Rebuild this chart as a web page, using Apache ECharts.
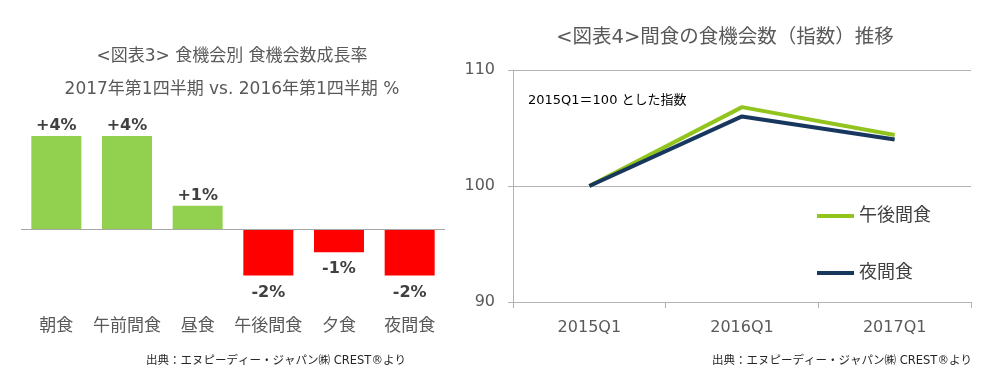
<!DOCTYPE html>
<html>
<head>
<meta charset="utf-8">
<script src="https://cdn.jsdelivr.net/npm/echarts@6/dist/echarts.min.js"></script>
<style>
html,body{margin:0;padding:0;background:#fff;}
#main{width:992px;height:377px;}
</style>
</head>
<body>
<div id="main"></div>
<script>
// ---- Data ----
const barCategories = ['朝食', '午前間食', '昼食', '午後間食', '夕食', '夜間食'];
const growthRates = [4, 4, 1, -2, -1, -2];
const quarters = ['2015Q1', '2016Q1', '2017Q1'];
const afternoonSnack = [100, 106.8, 104.4];
const nightSnack = [100, 106.0, 104.0];
const lineNames = ['午後間食', '夜間食'];
const indexAxis = { min: 90, max: 110, interval: 10 };
const rateAxis = { min: -3, max: 5 };

const FONT = "'DejaVu Sans', 'Noto Sans CJK JP', sans-serif";
const GREEN_BAR = '#92D050';
const RED_BAR = '#FF0000';
const GREEN_LINE = '#92C41E';
const NAVY_LINE = '#17375E';
const GRAY_TXT = '#595959';
const AXIS_GRAY = '#B3B3B3';

const chart = echarts.init(document.getElementById('main'), null, { renderer: 'canvas' });

const barData = growthRates.map(v => ({
  value: v,
  itemStyle: { color: v > 0 ? GREEN_BAR : RED_BAR },
  label: { position: v > 0 ? 'top' : 'bottom', distance: v > 0 ? 2 : 9 }
}));

const option = {
  backgroundColor: '#fff',
  animation: false,
  textStyle: { fontFamily: FONT },
  graphic: [
    { type: 'text', x: 232, y: 57, style: { text: '<図表3> 食機会別 食機会数成長率', font: "17px " + FONT, fill: GRAY_TXT, textAlign: 'center', textVerticalAlign: 'middle' } },
    { type: 'text', x: 232, y: 90, style: { text: '2017年第1四半期 vs. 2016年第1四半期 %', font: "17px " + FONT, fill: GRAY_TXT, textAlign: 'center', textVerticalAlign: 'middle' } },
    { type: 'text', x: 725, y: 38, style: { text: '<図表4>間食の食機会数（指数）推移', font: "19.5px " + FONT, fill: GRAY_TXT, textAlign: 'center', textVerticalAlign: 'middle' } },
    { type: 'text', x: 528, y: 101, style: { text: '2015Q1＝100 とした指数', font: "13px " + FONT, fill: '#000', textAlign: 'left', textVerticalAlign: 'middle' } },
    { type: 'text', x: 276, y: 361, style: { text: '出典：エヌピーディー・ジャパン㈱ CREST®より', font: "11.5px " + FONT, fill: '#262626', textAlign: 'center', textVerticalAlign: 'middle' } },
    { type: 'text', x: 842, y: 361, style: { text: '出典：エヌピーディー・ジャパン㈱ CREST®より', font: "11.5px " + FONT, fill: '#262626', textAlign: 'center', textVerticalAlign: 'middle' } }
  ],
  legend: {
    data: lineNames,
    orient: 'vertical',
    left: 812,
    top: 201,
    itemWidth: 37,
    itemHeight: 4,
    itemGap: 37,
    icon: 'rect',
    textStyle: { fontSize: 18, color: '#404040', fontFamily: FONT, lineHeight: 20 }
  },
  grid: [
    { left: 21, width: 424, top: 112.75, height: 186, containLabel: false },
    { left: 513, width: 458, top: 70, height: 232, containLabel: false }
  ],
  xAxis: [
    {
      type: 'category', gridIndex: 0, data: barCategories,
      axisLine: { show: false }, axisTick: { show: false },
      axisLabel: { interval: 0, fontSize: 17, color: GRAY_TXT, margin: 19, fontFamily: FONT }
    },
    {
      type: 'category', gridIndex: 1, data: quarters, boundaryGap: true,
      axisLine: { show: true, lineStyle: { color: AXIS_GRAY, width: 1 } },
      axisTick: { show: true, length: 6, lineStyle: { color: AXIS_GRAY } },
      axisLabel: { interval: 0, fontSize: 16, color: GRAY_TXT, margin: 18, fontFamily: FONT }
    }
  ],
  yAxis: [
    {
      type: 'value', gridIndex: 0, min: rateAxis.min, max: rateAxis.max,
      show: false, splitLine: { show: false }
    },
    {
      type: 'value', gridIndex: 1, min: indexAxis.min, max: indexAxis.max, interval: indexAxis.interval,
      axisLine: { show: true, lineStyle: { color: AXIS_GRAY, width: 1 } },
      axisTick: { show: true, length: 5, lineStyle: { color: AXIS_GRAY } },
      axisLabel: { fontSize: 16, color: GRAY_TXT, margin: 18, fontFamily: FONT },
      splitLine: { show: true, lineStyle: { color: AXIS_GRAY, width: 1 } }
    }
  ],
  series: [
    {
      type: 'bar', xAxisIndex: 0, yAxisIndex: 0, data: barData, barWidth: 50,
      label: {
        show: true, fontSize: 16, fontWeight: 'bold', color: '#404040', fontFamily: FONT,
        formatter: p => (p.value > 0 ? '+' : '') + p.value + '%'
      },
      markLine: {
        silent: true, symbol: 'none', label: { show: false },
        lineStyle: { color: '#A6A6A6', type: 'solid', width: 1 },
        data: [{ yAxis: 0 }]
      }
    },
    {
      name: lineNames[0], type: 'line', xAxisIndex: 1, yAxisIndex: 1, data: afternoonSnack,
      symbol: 'none', lineStyle: { color: GREEN_LINE, width: 4 }, itemStyle: { color: GREEN_LINE }
    },
    {
      name: lineNames[1], type: 'line', xAxisIndex: 1, yAxisIndex: 1, data: nightSnack,
      symbol: 'none', lineStyle: { color: NAVY_LINE, width: 4 }, itemStyle: { color: NAVY_LINE }
    }
  ]
};
chart.setOption(option);
</script>
</body>
</html>
